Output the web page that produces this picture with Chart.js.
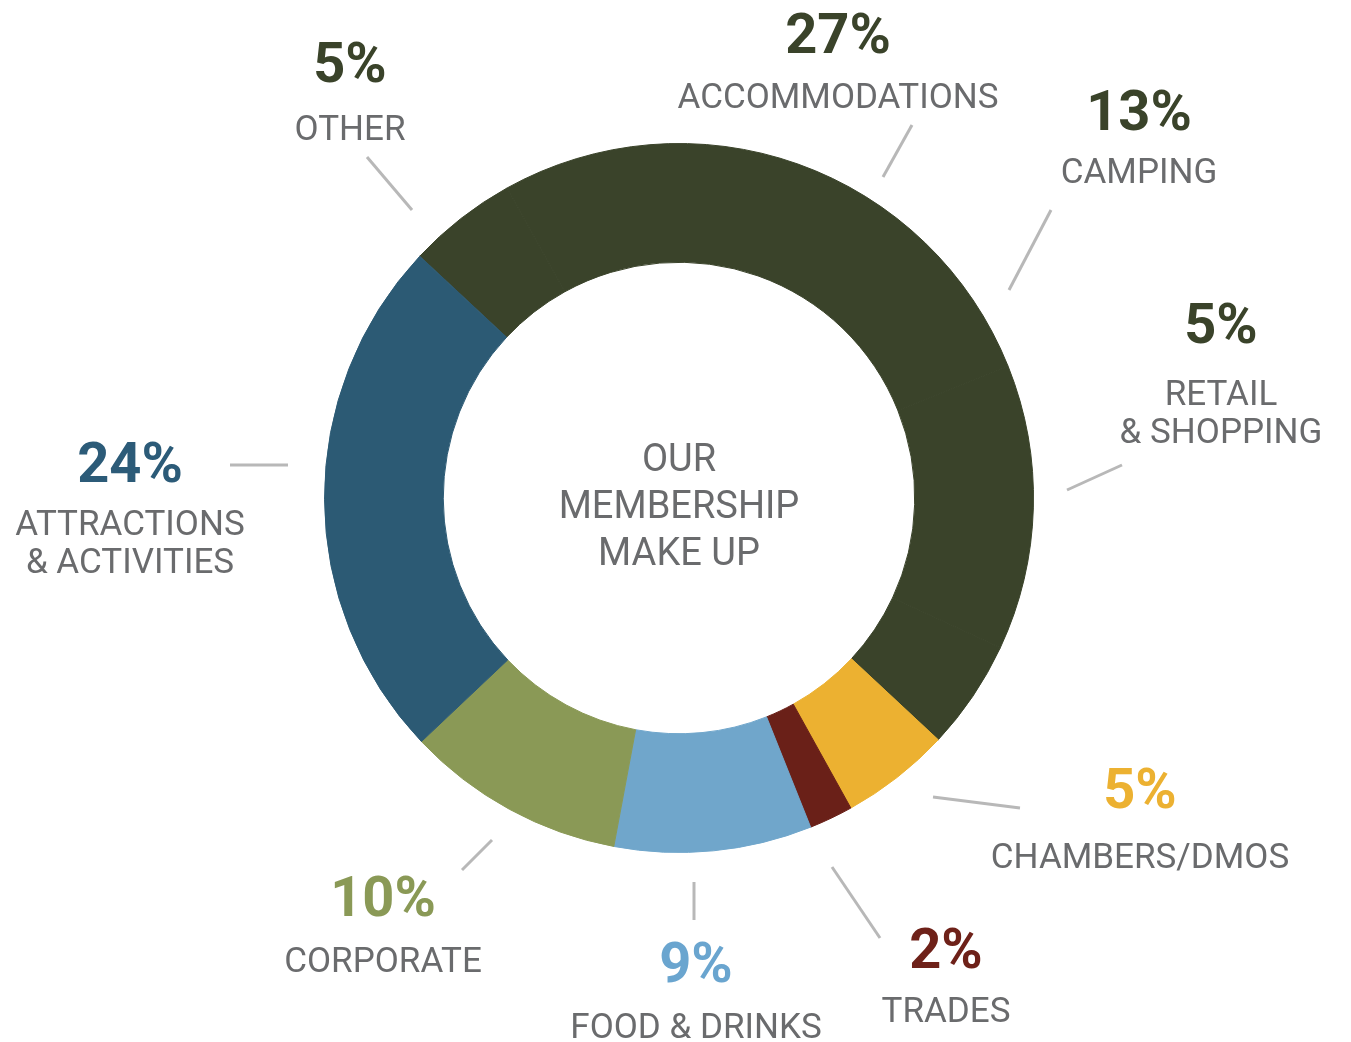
<!DOCTYPE html>
<html>
<head>
<meta charset="utf-8">
<title>Our Membership Make Up</title>
<script src="https://cdn.jsdelivr.net/npm/chart.js@4.4.1/dist/chart.umd.min.js"></script>
<style>
    html, body { margin: 0; padding: 0; background: #fff; overflow: hidden; }
    #wrap { position: relative; width: 1351px; height: 1042px; }
</style>
</head>
<body>
<div id="wrap"><canvas id="membership"></canvas></div>
<script>
// categories, clockwise from the upper left
var categories = [
    'OTHER',
    'ACCOMMODATIONS',
    'CAMPING',
    ['RETAIL', '& SHOPPING'],
    'CHAMBERS/DMOS',
    'TRADES',
    'FOOD & DRINKS',
    'CORPORATE',
    ['ATTRACTIONS', '& ACTIVITIES']
];
var shares = [5, 27, 13, 5, 5, 2, 9, 10, 24];
var centerTitle = ['OUR', 'MEMBERSHIP', 'MAKE UP'];

var darkGreen = '#3a432a';
var sliceColors = [darkGreen, darkGreen, darkGreen, darkGreen, '#ecb131', '#6a2018', '#70a6cb', '#8a9956', '#2c5a74'];
var pctColors = [darkGreen, darkGreen, darkGreen, darkGreen, '#ecb131', '#6e2119', '#6aa5cf', '#8a9956', '#2c5b78'];
var nameColor = '#6a6b6d';
var leaderColor = '#b8b8b8';

// annotation layout, offsets from the doughnut centre (px)
// tx: text centre, py: percent baseline, ny: first name baseline, line: leader x1,y1,x2,y2
var labelLayout = [
    {tx: -329, py: -416, ny: -358, line: [-267, -288, -312, -341]},
    {tx: 159, py: -445, ny: -390, line: [204, -321, 233, -373]},
    {tx: 460, py: -368, ny: -315, line: [330, -208, 372, -288]},
    {tx: 542, py: -155, ny: -93, line: [388, -8, 443, -33]},
    {tx: 461, py: 310, ny: 370, line: [254, 299, 341, 310]},
    {tx: 267, py: 470, ny: 524, line: [153, 369, 201, 440]},
    {tx: 17, py: 484, ny: 540, line: [15, 384, 15, 422]},
    {tx: -296, py: 418, ny: 474, line: [-187, 342, -217, 372]},
    {tx: -549, py: -16, ny: 37, line: [-391, -33, -449, -33]}
];

var calloutPlugin = {
    id: 'callouts',
    afterDraw: function(chart) {
        var arc = chart.getDatasetMeta(0).data[0];
        if (!arc) {
            return;
        }
        var cx = arc.x, cy = arc.y;
        var ctx = chart.ctx;
        var labels = chart.data.labels;
        var values = chart.data.datasets[0].data;
        ctx.save();
        ctx.textAlign = 'center';
        ctx.textBaseline = 'alphabetic';

        labelLayout.forEach(function(lay, i) {
            var l = lay.line;
            ctx.strokeStyle = leaderColor;
            ctx.lineWidth = 3;
            ctx.beginPath();
            ctx.moveTo(cx + l[0], cy + l[1]);
            ctx.lineTo(cx + l[2], cy + l[3]);
            ctx.stroke();

            ctx.fillStyle = pctColors[i];
            ctx.font = 'bold 56px Roboto';
            ctx.fillText(values[i] + '%', cx + lay.tx, cy + lay.py);

            var lines = [].concat(labels[i]);
            ctx.fillStyle = nameColor;
            ctx.font = '35px Roboto';
            lines.forEach(function(txt, j) {
                ctx.fillText(txt, cx + lay.tx, cy + lay.ny + j * 38);
            });
        });

        ctx.fillStyle = nameColor;
        ctx.font = '38px Roboto';
        centerTitle.forEach(function(txt, j) {
            ctx.fillText(txt, cx, cy - 27 + j * 47);
        });
        ctx.restore();
    }
};

new Chart(document.getElementById('membership').getContext('2d'), {
    type: 'doughnut',
    data: {
        labels: categories,
        datasets: [{
            data: shares,
            backgroundColor: sliceColors,
            borderColor: sliceColors,
            borderWidth: 1
        }]
    },
    options: {
        responsive: true,
        maintainAspectRatio: false,
        animation: false,
        rotation: -47,
        cutout: '66.5%',
        layout: {
            padding: {left: 324, right: 317, top: 143, bottom: 189}
        },
        plugins: {
            legend: {display: false},
            tooltip: {enabled: false}
        }
    },
    plugins: [calloutPlugin]
});
</script>
</body>
</html>
